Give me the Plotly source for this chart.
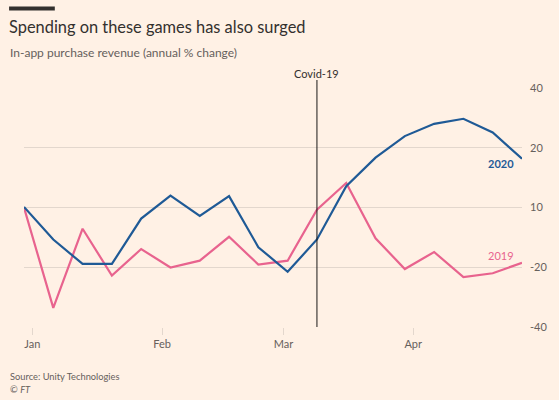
import plotly.graph_objects as go

weeks = ["2019-12-30", "2020-01-06", "2020-01-13", "2020-01-20", "2020-01-27",
         "2020-02-03", "2020-02-10", "2020-02-17", "2020-02-24", "2020-03-02",
         "2020-03-09", "2020-03-16", "2020-03-23", "2020-03-30", "2020-04-06",
         "2020-04-13", "2020-04-20", "2020-04-27"]
series_2020 = [0.2, -10.7, -18.9, -18.9, -3.7, 4.0, -2.8, 3.8, -13.3, -21.5,
               -10.7, 7.1, 16.7, 23.9, 28.0, 29.7, 25.1, 16.3]
series_2019 = [0.0, -33.6, -7.1, -22.8, -13.9, -20.1, -17.8, -9.8, -19.1, -17.8,
               -0.7, 8.2, -10.3, -20.6, -14.9, -23.3, -22.0, -18.5]
y_tickvals = [40, 20, 0, -20, -40]
y_ticktext = ["40", "20", "10", "-20", "-40"]
x_tickvals = ["2020-01-01", "2020-02-01", "2020-03-01", "2020-04-01"]
x_ticktext = ["Jan", "Feb", "Mar", "Apr"]
covid_date = "2020-03-09"

BG = "#FFF1E5"
BLUE = "#1F5A96"
PINK = "#E8638E"
GRID = "#E3D7CD"
TXT = "#66605C"
FONT = "Lato"

fig = go.Figure()
fig.add_trace(go.Scatter(x=weeks, y=series_2019, mode="lines",
                         line=dict(color=PINK, width=2.2), name="2019", hoverinfo="skip"))
fig.add_trace(go.Scatter(x=weeks, y=series_2020, mode="lines",
                         line=dict(color=BLUE, width=2.2), name="2020", hoverinfo="skip"))

fig.update_layout(
    width=559, height=400,
    paper_bgcolor=BG, plot_bgcolor=BG,
    showlegend=False,
    margin=dict(l=24, r=34, t=88, b=73),
    font=dict(family=FONT, color=TXT, size=11),
    title=dict(text="Spending on these games has also surged",
               x=9/559, xanchor="left", xref="container",
               y=1 - 27/400, yanchor="middle", yref="container",
               font=dict(family=FONT, size=16.4, color="#33302E")),
    xaxis=dict(type="date", range=[weeks[0], weeks[-1]],
               tickvals=x_tickvals, ticktext=x_ticktext,
               showgrid=False, zeroline=False, showline=False,
               ticks="outside", ticklen=7, tickcolor=GRID, tickwidth=1,
               tickfont=dict(size=11, color=TXT)),
    yaxis=dict(range=[-40, 40], side="right",
               tickvals=y_tickvals, ticktext=y_ticktext,
               showgrid=True, gridcolor=GRID, gridwidth=1,
               zeroline=False, showline=False, ticks="",
               ticklabelstandoff=7,
               tickfont=dict(size=11, color=TXT)),
)

H = 400 - 88 - 73
W = 559 - 24 - 34

def px(xp):
    return (xp - 24) / W

def py(yp):
    return (400 - 73 - yp) / H

fig.add_shape(type="line", xref="paper", yref="paper",
              x0=px(9), x1=px(55), y0=py(8.5), y1=py(8.5),
              line=dict(color="#33302E", width=4))
fig.add_shape(type="line", xref="x", yref="paper",
              x0=covid_date, x1=covid_date, y0=0, y1=py(80),
              line=dict(color="#1A1817", width=1))

annots = [
    dict(text="In-app purchase revenue (annual % change)", x=px(8), y=py(52),
         xanchor="left", yanchor="middle", font=dict(size=12, color=TXT)),
    dict(text="Source: Unity Technologies", x=px(8), y=py(376),
         xanchor="left", yanchor="middle", font=dict(size=9.3, color=TXT)),
    dict(text="© <i>FT</i>", x=px(8), y=py(389),
         xanchor="left", yanchor="middle", font=dict(size=9.3, color=TXT)),
    dict(text="Covid-19", x=px(318), y=py(73),
         xanchor="center", yanchor="middle", font=dict(size=11, color="#33302E")),
    dict(text="<b>2020</b>", x=px(519), y=py(163),
         xanchor="right", yanchor="middle", font=dict(size=11, color=BLUE)),
    dict(text="2019", x=px(519), y=py(255),
         xanchor="right", yanchor="middle", font=dict(size=11, color=PINK)),
]
for a in annots:
    fig.add_annotation(xref="paper", yref="paper", showarrow=False, **a)

fig.write_html("out.html", config={"displayModeBar": False},
               post_script="document.body.style.margin='0px';document.body.style.padding='0px';")
